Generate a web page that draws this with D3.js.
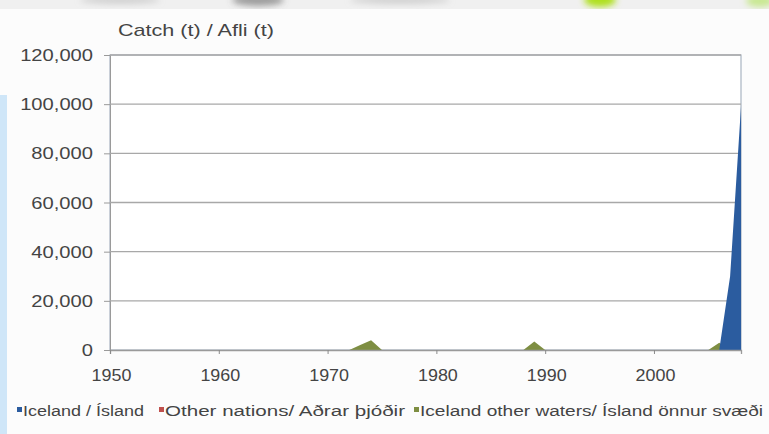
<!DOCTYPE html>
<html>
<head>
<meta charset="utf-8">
<script src="https://cdn.jsdelivr.net/npm/d3@7"></script>
<style>
  html, body { margin: 0; padding: 0; background: #fcfcfc; }
  svg { display: block; }
  text { font-family: "Liberation Sans", Arial, sans-serif; fill: #444444; }
</style>
</head>
<body>
<svg id="chart" width="769" height="434"></svg>
<script>
// Catch by year, tonnes
const years = d3.range(1950, 2009);
const iceland = [
  0,0,0,0,0,0,0,0,0,0,      // 1950-1959
  0,0,0,0,0,0,0,0,0,0,      // 1960-1969
  0,0,0,0,0,0,0,0,0,0,      // 1970-1979
  0,0,0,0,0,0,0,0,0,0,      // 1980-1989
  0,0,0,0,0,0,0,0,0,0,      // 1990-1999
  0,0,0,0,0,0,0,30000,99000 // 2000-2008
];
const otherNations = [
  0,0,0,0,0,0,0,0,0,0,
  0,0,0,0,0,0,0,0,0,0,
  0,0,0,0,0,0,0,0,0,0,
  0,0,0,0,0,0,0,0,0,0,
  0,0,0,0,0,0,0,0,0,0,
  0,0,0,0,0,0,0,0,0
];
const icelandOther = [
  0,0,0,0,0,0,0,0,0,0,
  0,0,0,0,0,0,0,0,0,0,
  0,0,0,2000,4000,0,0,0,0,0,
  0,0,0,0,0,0,0,0,0,3500,
  0,0,0,0,0,0,0,0,0,0,
  0,0,0,0,0,0,3000,0,0
];
const yTicks = [0, 20000, 40000, 60000, 80000, 100000, 120000];
const xTicks = [1950, 1960, 1970, 1980, 1990, 2000];
const seriesNames = ["Iceland / Ísland", "Other nations/ Aðrar þjóðir", "Iceland other waters/ Ísland önnur svæði"];
const seriesColors = ["#2b5c9f", "#c0504d", "#7e8e42"];

const svg = d3.select("#chart");
const defs = svg.append("defs");
defs.append("filter").attr("id", "soft").append("feGaussianBlur").attr("stdDeviation", 3);

// decorative page header strip
const deco = svg.append("g");
deco.append("rect").attr("x", 0).attr("y", 0).attr("width", 769).attr("height", 9).attr("fill", "#f0f0f0");
const blobs = deco.append("g").attr("filter", "url(#soft)");
blobs.append("ellipse").attr("cx", 258).attr("cy", 0).attr("rx", 26).attr("ry", 6).attr("fill", "#666").attr("opacity", 0.6);
blobs.append("ellipse").attr("cx", 120).attr("cy", 0).attr("rx", 40).attr("ry", 4).attr("fill", "#bbb").attr("opacity", 0.6);
blobs.append("ellipse").attr("cx", 400).attr("cy", 0).attr("rx", 50).attr("ry", 4).attr("fill", "#bbb").attr("opacity", 0.6);
blobs.append("ellipse").attr("cx", 600).attr("cy", 0).attr("rx", 16).attr("ry", 7).attr("fill", "#aee01a");
blobs.append("ellipse").attr("cx", 760).attr("cy", 1).attr("rx", 14).attr("ry", 6).attr("fill", "#c8e890");
deco.append("rect").attr("x", 0).attr("y", 95).attr("width", 7).attr("height", 339).attr("fill", "#cfe6f8");

const plotL = 110, plotR = 741, plotT = 55, plotB = 350;
const x = d3.scaleLinear().domain([1950, 2008]).range([plotL, plotR]);
const y = d3.scaleLinear().domain([0, 120000]).range([plotB, plotT]);

// plot frame and gridlines
svg.append("rect").attr("x", plotL).attr("y", plotT).attr("width", plotR - plotL).attr("height", plotB - plotT)
  .attr("fill", "#ffffff").attr("stroke", "#a9b4c2").attr("stroke-width", 1.2);

const yAxis = d3.axisLeft(y).tickValues(yTicks).tickSize(6).tickFormat(d3.format(","));
const gy = svg.append("g").attr("transform", `translate(${plotL},0)`).call(yAxis);
gy.select(".domain").attr("stroke", "#9a9a9a");
gy.selectAll(".tick line").attr("stroke", "#9a9a9a");
gy.selectAll(".tick text").attr("x", 0).attr("dy", "0.35em")
  .attr("transform", "translate(-17,0) scale(1.26,1)")
  .style("font-size", "16px").attr("fill", "#444444");

svg.append("g").selectAll("line").data(yTicks.filter(d => d > 0)).join("line")
  .attr("x1", plotL).attr("x2", plotR).attr("y1", d => y(d)).attr("y2", d => y(d))
  .attr("stroke", "#a8a8a8").attr("stroke-width", 1.3);

// areas
const area = vals => d3.area().x((d, i) => x(years[i])).y0(y(0)).y1(d => y(d))(vals);
svg.append("path").attr("d", area(icelandOther)).attr("fill", seriesColors[2]);
svg.append("path").attr("d", area(otherNations)).attr("fill", seriesColors[1]);
svg.append("path").attr("d", area(iceland)).attr("fill", seriesColors[0]);

// x axis
const xAxis = d3.axisBottom(x).tickValues(xTicks).tickSize(4).tickFormat(d3.format("d"));
const gx = svg.append("g").attr("transform", `translate(0,${plotB})`).call(xAxis);
gx.select(".domain").attr("stroke", "#9a9a9a").attr("stroke-width", 1.3);
gx.selectAll(".tick line").attr("stroke", "#8a8a8a");
gx.selectAll(".tick text").attr("y", 0).attr("dy", 0)
  .attr("transform", "translate(1,31) scale(1.12,1)")
  .style("font-size", "16px").attr("fill", "#444444");

// axis title
svg.append("text").attr("transform", "translate(118,36) scale(1.27,1)").style("font-size", "17px")
  .text("Catch (t) / Afli (t)");

// legend
const legendX = [17, 159, 414];
const legendTextWidth = [121, 240, 343];
const lg = svg.append("g").selectAll("g").data(seriesNames).join("g")
  .attr("transform", (d, i) => `translate(${legendX[i]},411)`);
lg.append("rect").attr("x", 0).attr("y", -4).attr("width", 5).attr("height", 5)
  .attr("fill", (d, i) => seriesColors[i]);
lg.append("text").attr("x", 6).attr("y", 5).style("font-size", "14px")
  .attr("textLength", (d, i) => legendTextWidth[i]).attr("lengthAdjust", "spacingAndGlyphs")
  .text(d => d);
</script>
</body>
</html>
